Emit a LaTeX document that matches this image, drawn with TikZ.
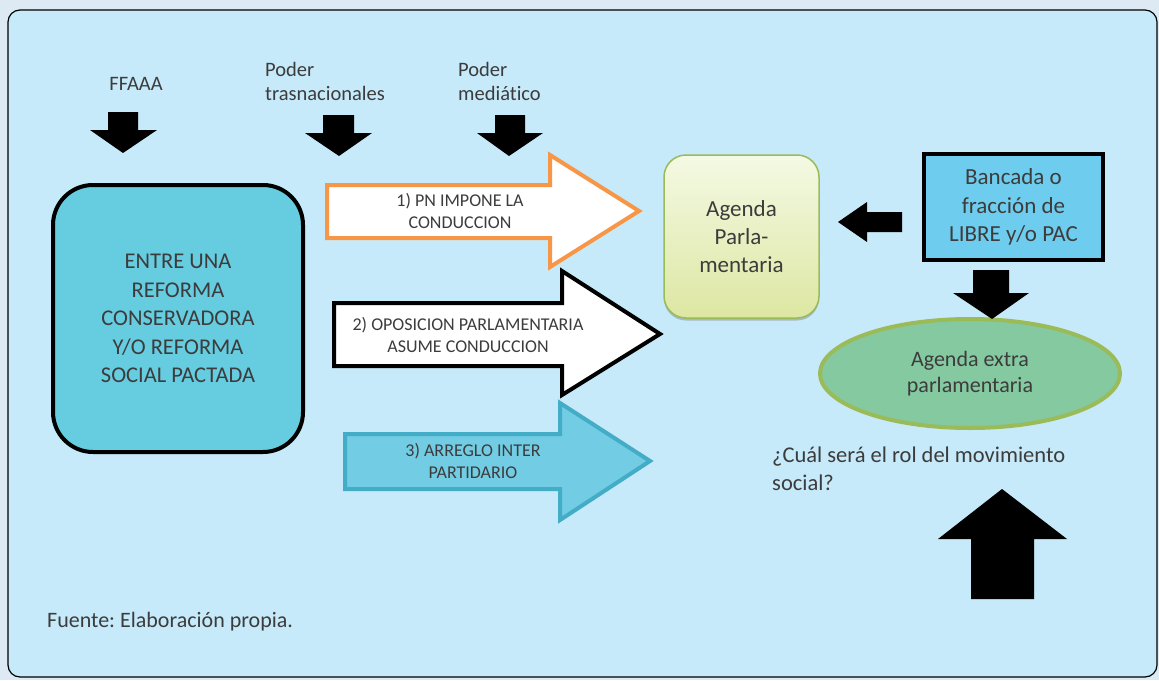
\documentclass[tikz,border=0pt]{standalone}
\usepackage{fontspec}
\setmainfont[Ligatures=NoCommon]{Carlito}
\frenchspacing
\usetikzlibrary{shapes.geometric, positioning, shadows}
\definecolor{outerbg}{HTML}{DDEAF4}
\definecolor{panelbg}{HTML}{C6EAF9}
\definecolor{reformfill}{HTML}{66CCE0}
\definecolor{pnline}{HTML}{F79646}
\definecolor{pactfill}{HTML}{72CDE4}
\definecolor{pactline}{HTML}{43ACC6}
\definecolor{agline}{HTML}{9BBB59}
\definecolor{agtop}{HTML}{F4F9E4}
\definecolor{agbottom}{HTML}{DDE7A2}
\definecolor{extrafill}{HTML}{84C9A0}
\definecolor{bancfill}{HTML}{6ECDEE}
\definecolor{txt}{HTML}{3C3C3C}
\tikzstyle{actor} = [text=txt, font=\fontsize{20.5}{24}\selectfont, align=left, inner sep=0pt]
\tikzstyle{reform} = [rectangle, draw, line width=4pt, rounded corners=40pt, fill=reformfill, text=txt, align=center, minimum width=250pt, minimum height=267pt, font=\fontsize{22.5}{28.5}\selectfont]
\tikzstyle{agenda} = [rectangle, draw=agline, line width=1.5pt, rounded corners=22pt, top color=agtop, bottom color=agbottom, text=txt, align=center, minimum width=155pt, minimum height=163pt, font=\fontsize{23}{28}\selectfont, drop shadow={shadow xshift=0pt, shadow yshift=-2.5pt, opacity=0.45}]
\tikzstyle{bancada} = [rectangle, draw, line width=4.5pt, fill=bancfill, text=txt, align=center, minimum width=179pt, minimum height=106pt, font=\fontsize{23}{28.5}\selectfont]
\tikzstyle{extra} = [ellipse, draw=agline, line width=4pt, fill=extrafill, text=txt, align=center, minimum width=300pt, minimum height=109pt, font=\fontsize{22}{26}\selectfont]
\tikzstyle{route} = [text=txt, align=center, inner sep=0pt, font=\fontsize{18}{22}\selectfont]
\tikzstyle{push} = [fill=black]
\tikzstyle{routearrow} = [line width=4pt, line join=miter]

\begin{document}
\begin{tikzpicture}[x=1pt, y=-1pt]

	% Background and panel
	\fill[outerbg] (0,0) rectangle (1159,680);
	\useasboundingbox (0,0) rectangle (1159,680);
	\draw[fill=panelbg, line width=1.2pt, rounded corners=12pt] (8,10) rectangle (1157,677);

	% Actors on top
	\node (ffaaa) [actor] at (136,84) {FFAAA};
	\node (trasnac) [actor, anchor=west] at (265,81) {Poder\\trasnacionales};
	\node (media) [actor, anchor=west] at (458,81) {Poder\\mediático};

	% Main nodes
	\node (reform) [reform] at (178,318.5) {ENTRE UNA\\REFORMA\\CONSERVADORA\\Y/O REFORMA\\SOCIAL PACTADA};
	\node (agenda) [agenda] at (741.5,236.5) {Agenda\\Parla-\\mentaria};
	\node (bancada) [bancada] at (1013.5,207) {Bancada o\\fracción de\\LIBRE y/o PAC};
	\node (extra) [extra] at (970,373.5) {Agenda extra\\parlamentaria};
	\node (question) [actor, anchor=west, font=\fontsize{22.5}{28}\selectfont] at (772,469) {¿Cuál será el rol del movimiento\\social?};
	\node (source) [actor, anchor=west, font=\fontsize{22}{24}\selectfont] at (47,622) {Fuente: Elaboración propia.};

	% Pressure arrows
	\fill[push] (108,112) -- (138,112) -- (138,130) -- (157,130) -- (123,153) -- (90,130) -- (108,130) -- cycle;
	\fill[push] (323,115) -- (354,115) -- (354,133) -- (372,133) -- (339,156) -- (305,133) -- (323,133) -- cycle;
	\fill[push] (495,115) -- (525,115) -- (525,133) -- (543,133) -- (509,156) -- (477,133) -- (495,133) -- cycle;
	\fill[push] (902,212) -- (902,232) -- (867,232) -- (867,242) -- (838,222) -- (867,202) -- (867,212) -- cycle;
	\fill[push] (973,270) -- (1009,270) -- (1009,293) -- (1029,293) -- (992,319) -- (953,293) -- (973,293) -- cycle;
	\fill[push] (971,599) -- (1034,599) -- (1034,539) -- (1067,539) -- (1002,489) -- (938,539) -- (971,539) -- cycle;

	% Routes
	\draw[routearrow, draw=pnline, fill=white] (327,185) -- (550,185) -- (550,155) -- (639,211) -- (550,267) -- (550,238) -- (327,238) -- cycle;
	\draw[routearrow, draw=black, fill=white] (334,303) -- (562,303) -- (562,271) -- (660,334) -- (562,395) -- (562,366) -- (334,366) -- cycle;
	\draw[routearrow, draw=pactline, fill=pactfill] (345,434) -- (560,434) -- (560,403) -- (650,461) -- (560,520) -- (560,489) -- (345,489) -- cycle;
	\node (route1) [route] at (460,211) {1) PN IMPONE LA\\CONDUCCION};
	\node (route2) [route] at (468,335) {2) OPOSICION PARLAMENTARIA\\ASUME CONDUCCION};
	\node (route3) [route] at (473,461) {3) ARREGLO INTER\\PARTIDARIO};

\end{tikzpicture}
\end{document}
